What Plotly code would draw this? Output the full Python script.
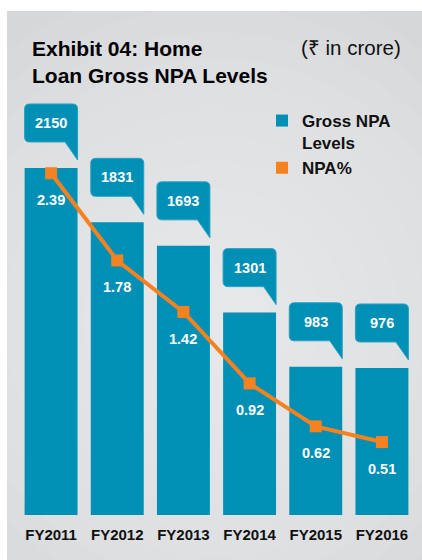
import plotly.graph_objects as go

# ---------------- data ----------------
years = ["FY2011", "FY2012", "FY2013", "FY2014", "FY2015", "FY2016"]
gross_npa = [2150, 1831, 1693, 1301, 983, 976]
npa_pct = [2.39, 1.78, 1.42, 0.92, 0.62, 0.51]

# ---------------- layout helpers ----------------
W_FIG, H_FIG = 422, 560
ML, MR, MT, MB = 18, 7, 90, 45
PW = W_FIG - ML - MR
PH = H_FIG - MT - MB


def px_x(px):
    """page x pixel -> paper coordinate"""
    return (px - ML) / PW


def px_y(py):
    """page y pixel -> paper coordinate"""
    return 1 - (py - MT) / PH


BLUE = "#0090b6"
ORANGE = "#f58220"
SANS = "Liberation Sans, Arial, Helvetica, sans-serif"

fig = go.Figure()

fig.add_trace(go.Bar(
    x=years, y=gross_npa, name="Gross NPA<br>Levels",
    marker=dict(color=BLUE, line=dict(width=0)),
    yaxis="y", hoverinfo="skip",
))
fig.add_trace(go.Scatter(
    x=years, y=npa_pct, mode="lines", line=dict(color=ORANGE, width=4),
    yaxis="y2", showlegend=False, hoverinfo="skip",
))
fig.add_trace(go.Scatter(
    x=years, y=npa_pct, mode="markers", name="NPA%",
    marker=dict(symbol="square", size=12, color=ORANGE, line=dict(width=0)),
    yaxis="y2", hoverinfo="skip",
))

shapes = []
# gray panel
shapes.append(dict(type="rect", xref="paper", yref="paper",
                   x0=px_x(7), x1=px_x(440), y0=px_y(580), y1=px_y(11),
                   fillcolor="#d6d7d9", line=dict(width=0), layer="below"))
# soft radial highlight
cx, cy = 215, 320
n_steps = 12
for k in range(n_steps):
    r = 340 - k * 26
    shapes.append(dict(type="circle", xref="paper", yref="paper",
                       x0=px_x(cx - r), x1=px_x(cx + r), y0=px_y(cy + r), y1=px_y(cy - r),
                       fillcolor="white", opacity=0.06, line=dict(width=0), layer="below"))
# keep the outer strips white (the circles may overflow)
shapes.append(dict(type="rect", xref="paper", yref="paper",
                   x0=px_x(-20), x1=px_x(440), y0=px_y(11), y1=px_y(-20),
                   fillcolor="white", line=dict(width=0), layer="below"))
shapes.append(dict(type="rect", xref="paper", yref="paper",
                   x0=px_x(-20), x1=px_x(7), y0=px_y(580), y1=px_y(-20),
                   fillcolor="white", line=dict(width=0), layer="below"))

# callout bubbles anchored on bar tops (pixel offsets)
hw, bot, top, rad, tip, tail_x = 26.5, 26, 64, 5, 8, 14
bubble = (f"M {-hw+rad},{top} L {hw-rad},{top} Q {hw},{top} {hw},{top-rad} "
          f"L {hw},{tip} L {tail_x},{bot} L {-hw+rad},{bot} Q {-hw},{bot} {-hw},{bot+rad} "
          f"L {-hw},{top-rad} Q {-hw},{top} {-hw+rad},{top} Z")
for i, v in enumerate(gross_npa):
    shapes.append(dict(type="path", xref="x", yref="y",
                       xsizemode="pixel", ysizemode="pixel", xanchor=i, yanchor=v,
                       path=bubble, fillcolor=BLUE, line=dict(color="#2aa0c2", width=1),
                       layer="above"))

annotations = []
for i, v in enumerate(gross_npa):
    annotations.append(dict(x=i, y=v, xref="x", yref="y", yshift=45, showarrow=False,
                            text=str(v), font=dict(family=SANS, size=14.5, color="white", weight="bold")))
for i, p in enumerate(npa_pct):
    annotations.append(dict(x=i, y=p, xref="x", yref="y2", yshift=-27, showarrow=False,
                            text=f"{p:.2f}", font=dict(family=SANS, size=14.5, color="white", weight="bold")))

annotations.append(dict(xref="paper", yref="paper", x=px_x(30), y=px_y(62), xanchor="left", yanchor="middle",
                        align="left", showarrow=False,
                        text="Exhibit 04: Home<br>Loan Gross NPA Levels",
                        font=dict(family=SANS, size=21, color="black", weight="bold")))
annotations.append(dict(xref="paper", yref="paper", x=px_x(403), y=px_y(48), xanchor="right", yanchor="middle",
                        showarrow=False, text="(₹ in crore)",
                        font=dict(family=SANS, size=20.5, color="#111111")))

fig.update_layout(
    width=W_FIG, height=H_FIG,
    margin=dict(l=ML, r=MR, t=MT, b=MB, pad=0, autoexpand=False),
    paper_bgcolor="white", plot_bgcolor="rgba(0,0,0,0)",
    bargap=0.2,
    hovermode=False,
    shapes=shapes, annotations=annotations,
    xaxis=dict(type="category", range=[-0.5, 5.5], showgrid=False, zeroline=False, showline=False,
               ticks="", ticklabelstandoff=9, tickangle=0, automargin=False,
               tickfont=dict(family=SANS, size=15, color="#111111", weight="bold")),
    yaxis=dict(range=[113, 2607.7], visible=False, showgrid=False, zeroline=False, automargin=False),
    yaxis2=dict(range=[0, 2.972], overlaying="y", side="right", visible=False,
                showgrid=False, zeroline=False, automargin=False),
    legend=dict(x=px_x(262), y=px_y(103), xanchor="left", yanchor="top",
                bgcolor="rgba(0,0,0,0)", valign="top", itemwidth=30,
                font=dict(family=SANS, size=17, color="#111111", weight="bold")),
    showlegend=True,
)

# remove the default page margin so the figure fills the window exactly
fig.write_html(
    "out.html",
    config={"displayModeBar": False},
    post_script="document.body.style.margin='0';document.body.style.overflow='hidden';",
)
